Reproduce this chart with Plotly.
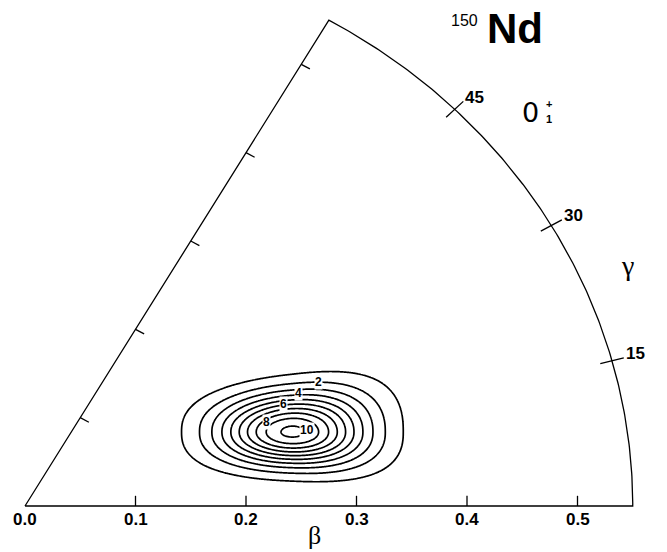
import numpy as np
import plotly.graph_objects as go

# ---------------- data ----------------
beta_ticks = [0.1, 0.2, 0.3, 0.4, 0.5]
beta_tick_labels = ["0.0", "0.1", "0.2", "0.3", "0.4", "0.5"]
beta_label_values = [0.0, 0.1, 0.2, 0.3, 0.4, 0.5]
gamma_ticks = [15, 30, 45]
gamma_tick_labels = ["15", "30", "45"]
beta_max = 0.55
gamma_max = 60

contour_levels = [1, 2, 3, 4, 5, 6, 7, 8, 9, 10]
labeled_levels = ["2", "4", "6", "8", "10"]
# approximate (beta, gamma-deg) of each printed contour label
label_beta = [0.292, 0.271, 0.254, 0.234, 0.266]
label_gamma = [24.7, 24.2, 23.1, 20.7, 16.3]

# probability-density peak
peak_height = 10.25
peak_x, peak_y = 0.2420, 0.0725       # beta*cos(g), beta*sin(g) of the maximum
sigma_x = 0.0465
sigma_top, sigma_bottom = 0.0263, 0.0223
growth_top, growth_bottom = 0.10, 0.045
boxiness = 0.11

# ---------------- density surface ----------------
xs = np.linspace(0.09, 0.42, 331)
ys = np.linspace(-0.01, 0.2, 211)
X, Y = np.meshgrid(xs, ys)
u = (X - peak_x) / sigma_x
dy = Y - peak_y
sv = np.where(dy > 0, sigma_top * (1 + growth_top * u), sigma_bottom * (1 + growth_bottom * u))
v = dy / sv
rho2 = u ** 2 + v ** 2
p = 2 + boxiness * rho2
rp = (np.abs(u) ** p + np.abs(v) ** p) ** (1 / p)
Z = peak_height * np.exp(-0.5 * rp ** 2)

fig = go.Figure()

fig.add_trace(go.Contour(
    x=xs, y=ys, z=Z,
    contours=dict(start=contour_levels[0], end=contour_levels[-1], size=1, coloring="lines"),
    colorscale=[[0, "black"], [1, "black"]],
    line=dict(width=1.7),
    showscale=False, hoverinfo="skip",
))

LINE = dict(color="black", width=1.3)
g60 = np.radians(gamma_max)

# frame: base, left edge, arc
arc_g = np.radians(np.linspace(0, gamma_max, 181))
fx = [0, beta_max] + list(beta_max * np.cos(arc_g)) + [0]
fy = [0, 0] + list(beta_max * np.sin(arc_g)) + [0]
fig.add_trace(go.Scatter(x=fx, y=fy, mode="lines", line=LINE, hoverinfo="skip"))

# ticks on base (upward) and left edge (inward)
tx, ty = [], []
for b in beta_ticks:
    tx += [b, b, None]
    ty += [0, 0.010, None]
    px, py = b * np.cos(g60), b * np.sin(g60)
    tx += [px, px + 0.009 * np.sin(g60), None]
    ty += [py, py - 0.009 * np.cos(g60), None]
# ticks crossing the arc
for g in gamma_ticks:
    gr = np.radians(g)
    tx += [(beta_max - 0.011) * np.cos(gr), (beta_max + 0.011) * np.cos(gr), None]
    ty += [(beta_max - 0.011) * np.sin(gr), (beta_max + 0.011) * np.sin(gr), None]
fig.add_trace(go.Scatter(x=tx, y=ty, mode="lines", line=LINE, hoverinfo="skip"))

SANS = "Liberation Sans, Arial, sans-serif"
SERIF = "Liberation Serif, DejaVu Serif, serif"
ann = []
TICKFONT = dict(family=SANS, size=17, color="black")
for b, lab in zip(beta_label_values, beta_tick_labels):
    ann.append(dict(x=b, y=0, text="<b>%s</b>" % lab, showarrow=False,
                    xanchor="center", yanchor="top", yshift=-2, font=TICKFONT))
for g, lab in zip(gamma_ticks, gamma_tick_labels):
    gr = np.radians(g)
    ann.append(dict(x=(beta_max + 0.011) * np.cos(gr), y=(beta_max + 0.011) * np.sin(gr),
                    text="<b>%s</b>" % lab, showarrow=False, xanchor="left", yanchor="middle",
                    xshift=0, yshift=4, font=TICKFONT))
for lab, b, g in zip(labeled_levels, label_beta, label_gamma):
    gr = np.radians(g)
    ann.append(dict(x=b * np.cos(gr), y=b * np.sin(gr), text="<b>%s</b>" % lab, showarrow=False,
                    xanchor="center", yanchor="middle",
                    font=dict(family=SANS, size=12, color="black"),
                    bgcolor="white", borderpad=0))


def paper_text(xp, yp, text, font):
    ann.append(dict(xref="paper", yref="paper", x=xp / 667, y=1 - yp / 552, text=text,
                    showarrow=False, xanchor="center", yanchor="middle", font=font))


# axis symbols
paper_text(314, 535, "β", dict(family=SERIF, size=26, color="black"))
paper_text(627, 266, "γ", dict(family=SERIF, size=28, color="black"))
# title: 150Nd
paper_text(464, 20, "150", dict(family=SANS, size=16, color="black"))
paper_text(515, 28, "<b>Nd</b>", dict(family=SANS, size=42, color="black"))
# state label 0+_1
paper_text(530, 112, "0", dict(family="DejaVu Sans, sans-serif", size=27, color="black"))
paper_text(549, 104, "<b>+</b>", dict(family=SANS, size=11, color="black"))
paper_text(549, 119, "<b>1</b>", dict(family=SANS, size=11, color="black"))

fig.update_layout(
    width=667, height=552, margin=dict(l=0, r=0, t=0, b=0),
    paper_bgcolor="white", plot_bgcolor="white", showlegend=False,
    xaxis=dict(range=[-25 / 1105, 642 / 1105], visible=False, fixedrange=True),
    yaxis=dict(range=[-46 / 1020, 506 / 1020], visible=False, fixedrange=True),
    annotations=ann,
)

fig.write_html("out.html", config={"displayModeBar": False, "staticPlot": True},
               post_script="document.body.style.margin='0px';")
